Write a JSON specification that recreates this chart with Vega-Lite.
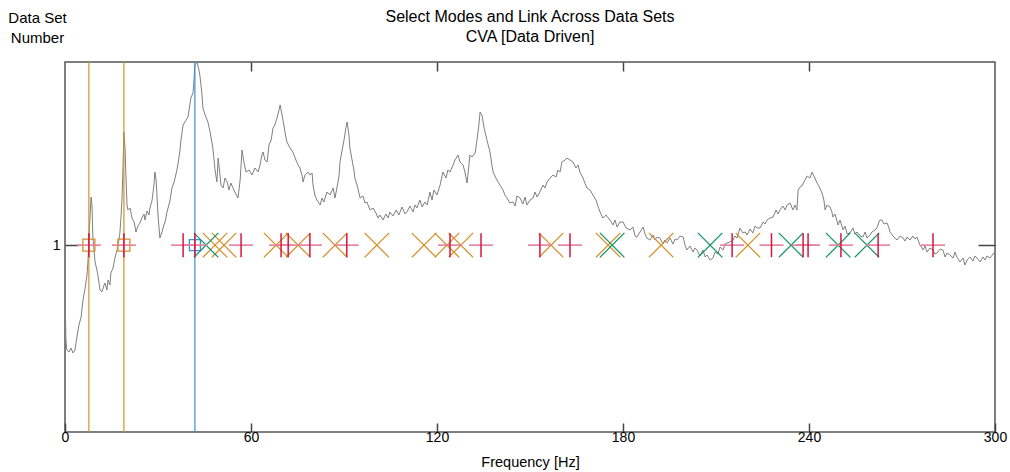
{
"$schema": "https://vega.github.io/schema/vega-lite/v6.json",
"width": 930, "height": 370,
"autosize": {"type": "none"},
"padding": {"left": 65, "top": 62, "right": 15, "bottom": 40},
"background": "white",
"config": {
  "view": {"stroke": "#555", "strokeWidth": 1.5},
  "font": "Liberation Sans",
  "axis": {"labelFont": "Liberation Sans", "titleFont": "Liberation Sans", "labelColor": "#000", "titleColor": "#000", "tickColor": "#444", "tickWidth": 1.5, "grid": false, "domain": false, "titleFontWeight": "normal", "labelFlush": false}
},
"title": {"text": ["Select Modes and Link Across Data Sets", "CVA [Data Driven]"], "font": "Liberation Sans", "fontSize": 16, "fontWeight": "normal", "color": "#000", "anchor": "middle", "offset": 0, "dy": 35, "lineHeight": 20},
"datasets": {
"curve": [
{"f":0,"a":142},{"f":0.3,"a":92},{"f":0.6,"a":82},{"f":1.3,"a":80},{"f":1.9,"a":84},{"f":2.6,"a":79},{"f":3.2,"a":82},{"f":3.9,"a":96},{"f":4.5,"a":107},{"f":5.2,"a":115},{"f":5.8,"a":132},{"f":6.5,"a":144},{"f":7.1,"a":157},{"f":7.4,"a":170},{"f":7.7,"a":192},{"f":8.1,"a":217},{"f":8.4,"a":235},{"f":8.7,"a":227},{"f":9.0,"a":194},{"f":9.7,"a":170},{"f":10.3,"a":162},{"f":10.6,"a":157},{"f":11.3,"a":142},{"f":11.9,"a":140},{"f":12.6,"a":147},{"f":12.9,"a":149},{"f":13.5,"a":142},{"f":13.9,"a":152},{"f":14.5,"a":147},{"f":14.8,"a":159},{"f":15.5,"a":164},{"f":16.1,"a":174},{"f":16.8,"a":182},{"f":17.4,"a":192},{"f":17.7,"a":199},{"f":18.1,"a":217},{"f":18.4,"a":234},{"f":18.7,"a":264},{"f":19.0,"a":300},{"f":19.4,"a":282},{"f":19.7,"a":252},{"f":20.0,"a":227},{"f":20.3,"a":222},{"f":21.0,"a":224},{"f":21.6,"a":214},{"f":22.3,"a":210},{"f":22.9,"a":200},{"f":23.5,"a":206},{"f":24.2,"a":209},{"f":24.8,"a":214},{"f":25.5,"a":218},{"f":25.8,"a":212},{"f":26.5,"a":221},{"f":27.1,"a":217},{"f":27.4,"a":224},{"f":28.1,"a":232},{"f":28.7,"a":247},{"f":29.0,"a":260},{"f":29.4,"a":252},{"f":30.0,"a":217},{"f":30.6,"a":194},{"f":31.3,"a":200},{"f":31.9,"a":207},{"f":32.3,"a":210},{"f":32.9,"a":220},{"f":33.5,"a":227},{"f":33.9,"a":232},{"f":34.5,"a":244},{"f":35.2,"a":250},{"f":35.5,"a":254},{"f":36.1,"a":262},{"f":36.5,"a":269},{"f":37.1,"a":282},{"f":37.4,"a":292},{"f":38.1,"a":307},{"f":38.7,"a":310},{"f":39.4,"a":314},{"f":39.7,"a":315},{"f":40.0,"a":322},{"f":40.6,"a":334},{"f":41.0,"a":337},{"f":41.3,"a":339},{"f":41.6,"a":352},{"f":41.9,"a":367},{"f":42.6,"a":370},{"f":43.2,"a":362},{"f":43.5,"a":357},{"f":44.2,"a":337},{"f":44.5,"a":324},{"f":45.2,"a":317},{"f":46.1,"a":310},{"f":46.8,"a":300},{"f":47.7,"a":284},{"f":48.4,"a":262},{"f":49.0,"a":250},{"f":49.4,"a":274},{"f":50.0,"a":257},{"f":50.3,"a":247},{"f":51.0,"a":244},{"f":51.6,"a":254},{"f":52.3,"a":250},{"f":52.9,"a":242},{"f":53.5,"a":249},{"f":54.2,"a":244},{"f":54.8,"a":240},{"f":55.8,"a":234},{"f":56.5,"a":252},{"f":57.1,"a":282},{"f":57.7,"a":270},{"f":58.4,"a":260},{"f":59.4,"a":262},{"f":60.3,"a":257},{"f":61.3,"a":264},{"f":62.3,"a":260},{"f":62.9,"a":267},{"f":63.5,"a":277},{"f":63.9,"a":280},{"f":64.5,"a":272},{"f":65.2,"a":270},{"f":65.8,"a":287},{"f":66.5,"a":292},{"f":67.1,"a":304},{"f":67.7,"a":307},{"f":68.4,"a":314},{"f":69.4,"a":327},{"f":70.0,"a":317},{"f":70.6,"a":307},{"f":71.3,"a":294},{"f":71.6,"a":290},{"f":72.6,"a":284},{"f":73.5,"a":280},{"f":74.5,"a":272},{"f":75.2,"a":267},{"f":75.8,"a":264},{"f":76.5,"a":256},{"f":76.8,"a":250},{"f":77.4,"a":257},{"f":78.4,"a":260},{"f":79.0,"a":257},{"f":79.7,"a":259},{"f":80.0,"a":247},{"f":80.6,"a":237},{"f":81.3,"a":232},{"f":82.3,"a":227},{"f":82.9,"a":234},{"f":83.5,"a":230},{"f":84.5,"a":240},{"f":85.5,"a":237},{"f":86.5,"a":244},{"f":87.1,"a":234},{"f":87.7,"a":244},{"f":88.4,"a":256},{"f":88.7,"a":270},{"f":89.4,"a":282},{"f":90.0,"a":292},{"f":90.6,"a":304},{"f":91.0,"a":310},{"f":91.6,"a":297},{"f":91.9,"a":284},{"f":92.6,"a":272},{"f":93.2,"a":262},{"f":93.5,"a":254},{"f":94.2,"a":247},{"f":95.2,"a":234},{"f":96.1,"a":236},{"f":96.8,"a":229},{"f":97.4,"a":230},{"f":98.4,"a":222},{"f":99.4,"a":224},{"f":100.3,"a":219},{"f":101.0,"a":214},{"f":101.6,"a":217},{"f":102.6,"a":212},{"f":103.5,"a":218},{"f":104.2,"a":214},{"f":104.8,"a":220},{"f":105.8,"a":216},{"f":106.8,"a":222},{"f":107.7,"a":217},{"f":108.7,"a":225},{"f":109.7,"a":218},{"f":110.3,"a":220},{"f":111.3,"a":226},{"f":112.3,"a":220},{"f":112.9,"a":227},{"f":113.5,"a":224},{"f":114.5,"a":232},{"f":115.2,"a":225},{"f":116.1,"a":230},{"f":116.8,"a":227},{"f":117.4,"a":235},{"f":117.7,"a":240},{"f":118.4,"a":232},{"f":119.0,"a":242},{"f":120.0,"a":237},{"f":121.0,"a":247},{"f":121.9,"a":260},{"f":122.9,"a":254},{"f":123.5,"a":262},{"f":124.2,"a":260},{"f":125.2,"a":267},{"f":125.8,"a":272},{"f":126.8,"a":277},{"f":127.4,"a":270},{"f":128.4,"a":267},{"f":129.0,"a":260},{"f":129.7,"a":249},{"f":130.3,"a":267},{"f":130.6,"a":277},{"f":131.3,"a":275},{"f":132.3,"a":279},{"f":132.9,"a":292},{"f":133.5,"a":307},{"f":133.9,"a":320},{"f":134.5,"a":317},{"f":135.2,"a":304},{"f":135.5,"a":300},{"f":136.1,"a":292},{"f":137.1,"a":280},{"f":137.7,"a":267},{"f":138.1,"a":260},{"f":139.0,"a":254},{"f":139.7,"a":250},{"f":140.3,"a":247},{"f":141.3,"a":242},{"f":141.9,"a":237},{"f":142.6,"a":234},{"f":143.5,"a":229},{"f":144.5,"a":230},{"f":145.2,"a":226},{"f":145.8,"a":236},{"f":146.8,"a":234},{"f":147.7,"a":228},{"f":148.4,"a":235},{"f":149.0,"a":227},{"f":150.0,"a":232},{"f":151.0,"a":234},{"f":151.6,"a":240},{"f":152.3,"a":235},{"f":153.2,"a":240},{"f":154.2,"a":247},{"f":154.8,"a":244},{"f":155.5,"a":250},{"f":156.5,"a":254},{"f":157.4,"a":257},{"f":158.4,"a":255},{"f":159.0,"a":262},{"f":159.7,"a":260},{"f":160.3,"a":270},{"f":161.3,"a":272},{"f":161.9,"a":274},{"f":162.9,"a":272},{"f":163.9,"a":270},{"f":164.8,"a":264},{"f":165.5,"a":267},{"f":166.1,"a":260},{"f":167.1,"a":254},{"f":167.7,"a":249},{"f":168.4,"a":244},{"f":169.4,"a":242},{"f":170.3,"a":237},{"f":171.3,"a":232},{"f":171.9,"a":226},{"f":172.6,"a":220},{"f":173.5,"a":214},{"f":174.5,"a":217},{"f":175.8,"a":212},{"f":176.8,"a":207},{"f":177.4,"a":212},{"f":178.1,"a":205},{"f":179.0,"a":210},{"f":180.0,"a":210},{"f":181.0,"a":204},{"f":182.3,"a":202},{"f":183.2,"a":205},{"f":183.9,"a":196},{"f":184.5,"a":195},{"f":185.5,"a":200},{"f":186.5,"a":205},{"f":187.1,"a":198},{"f":187.7,"a":194},{"f":188.7,"a":192},{"f":189.7,"a":197},{"f":190.3,"a":192},{"f":191.0,"a":195},{"f":191.9,"a":194},{"f":192.9,"a":188},{"f":193.5,"a":192},{"f":194.2,"a":189},{"f":195.2,"a":194},{"f":196.1,"a":188},{"f":196.8,"a":193},{"f":197.4,"a":192},{"f":198.4,"a":196},{"f":199.4,"a":195},{"f":200.0,"a":187},{"f":200.6,"a":182},{"f":201.6,"a":186},{"f":202.6,"a":180},{"f":203.2,"a":184},{"f":203.9,"a":182},{"f":204.8,"a":176},{"f":205.8,"a":182},{"f":206.5,"a":175},{"f":207.1,"a":177},{"f":208.1,"a":172},{"f":209.0,"a":174},{"f":209.7,"a":180},{"f":210.6,"a":178},{"f":211.3,"a":185},{"f":212.3,"a":182},{"f":212.9,"a":188},{"f":213.5,"a":189},{"f":214.5,"a":190},{"f":215.5,"a":192},{"f":216.1,"a":196},{"f":216.8,"a":194},{"f":217.7,"a":204},{"f":218.7,"a":199},{"f":219.4,"a":200},{"f":220.0,"a":197},{"f":221.0,"a":203},{"f":221.9,"a":199},{"f":222.6,"a":206},{"f":223.2,"a":204},{"f":224.2,"a":204},{"f":225.2,"a":210},{"f":225.8,"a":208},{"f":226.5,"a":212},{"f":227.4,"a":214},{"f":228.4,"a":215},{"f":229.4,"a":222},{"f":230.0,"a":218},{"f":230.6,"a":222},{"f":231.6,"a":226},{"f":232.3,"a":222},{"f":232.9,"a":227},{"f":233.9,"a":229},{"f":234.8,"a":222},{"f":235.5,"a":227},{"f":236.1,"a":222},{"f":236.5,"a":242},{"f":237.1,"a":245},{"f":237.7,"a":246},{"f":238.7,"a":252},{"f":239.4,"a":256},{"f":240.3,"a":254},{"f":241.0,"a":260},{"f":241.6,"a":256},{"f":242.6,"a":249},{"f":243.2,"a":246},{"f":244.2,"a":239},{"f":244.8,"a":232},{"f":245.2,"a":222},{"f":245.8,"a":227},{"f":246.8,"a":225},{"f":247.4,"a":220},{"f":247.7,"a":215},{"f":248.4,"a":218},{"f":249.4,"a":207},{"f":250.0,"a":212},{"f":251.0,"a":202},{"f":251.6,"a":206},{"f":252.3,"a":198},{"f":253.2,"a":199},{"f":254.2,"a":204},{"f":254.8,"a":198},{"f":255.5,"a":200},{"f":256.5,"a":196},{"f":257.4,"a":195},{"f":258.1,"a":200},{"f":258.7,"a":194},{"f":259.7,"a":197},{"f":260.3,"a":200},{"f":261.3,"a":202},{"f":261.9,"a":204},{"f":262.6,"a":210},{"f":262.9,"a":212},{"f":263.5,"a":212},{"f":264.2,"a":208},{"f":265.2,"a":209},{"f":265.8,"a":204},{"f":266.1,"a":200},{"f":267.1,"a":196},{"f":267.7,"a":194},{"f":268.4,"a":192},{"f":269.4,"a":196},{"f":270.3,"a":194},{"f":271.0,"a":191},{"f":271.6,"a":195},{"f":272.6,"a":192},{"f":273.5,"a":196},{"f":274.2,"a":193},{"f":274.8,"a":195},{"f":275.8,"a":187},{"f":276.8,"a":182},{"f":277.4,"a":186},{"f":278.1,"a":180},{"f":279.0,"a":184},{"f":280.0,"a":182},{"f":280.6,"a":178},{"f":281.3,"a":179},{"f":282.3,"a":183},{"f":283.2,"a":182},{"f":283.9,"a":175},{"f":284.5,"a":179},{"f":285.5,"a":177},{"f":286.5,"a":174},{"f":287.1,"a":180},{"f":287.7,"a":175},{"f":288.7,"a":170},{"f":289.7,"a":174},{"f":290.3,"a":167},{"f":291.0,"a":172},{"f":291.9,"a":175},{"f":292.9,"a":171},{"f":293.5,"a":176},{"f":294.2,"a":174},{"f":295.2,"a":170},{"f":296.1,"a":175},{"f":296.8,"a":172},{"f":297.4,"a":176},{"f":298.4,"a":174},{"f":299.4,"a":178},{"f":300.0,"a":180}
],
"lines": [
{"f": 7.7, "group": "orange"}, {"f": 19.0, "group": "orange"}, {"f": 41.9, "group": "blue"}
],
"modes": [
{"f": 7.7, "ds": 1, "group": "sq-orange"}, {"f": 19.0, "ds": 1, "group": "sq-orange"}, {"f": 41.9, "ds": 1, "group": "sq-blue"},
{"f": 48.4, "ds": 1, "group": "x-orange"}, {"f": 51.3, "ds": 1, "group": "x-orange"}, {"f": 68.1, "ds": 1, "group": "x-orange"}, {"f": 75.2, "ds": 1, "group": "x-orange"}, {"f": 87.1, "ds": 1, "group": "x-orange"}, {"f": 100.6, "ds": 1, "group": "x-orange"}, {"f": 115.8, "ds": 1, "group": "x-orange"}, {"f": 123.2, "ds": 1, "group": "x-orange"}, {"f": 127.7, "ds": 1, "group": "x-orange"}, {"f": 156.8, "ds": 1, "group": "x-orange"}, {"f": 175.2, "ds": 1, "group": "x-orange"}, {"f": 192.3, "ds": 1, "group": "x-orange"}, {"f": 220.3, "ds": 1, "group": "x-orange"},
{"f": 45.5, "ds": 1, "group": "x-green"}, {"f": 176.5, "ds": 1, "group": "x-green"}, {"f": 208.1, "ds": 1, "group": "x-green"}, {"f": 234.2, "ds": 1, "group": "x-green"}, {"f": 249.4, "ds": 1, "group": "x-green"}, {"f": 258.7, "ds": 1, "group": "x-green"},
{"f": 7.7, "ds": 1, "group": "cross"}, {"f": 19.0, "ds": 1, "group": "cross"}, {"f": 38.1, "ds": 1, "group": "cross"}, {"f": 41.9, "ds": 1, "group": "cross"}, {"f": 56.8, "ds": 1, "group": "cross"}, {"f": 69.7, "ds": 1, "group": "cross"}, {"f": 72.0, "ds": 1, "group": "cross"}, {"f": 79.0, "ds": 1, "group": "cross"}, {"f": 90.9, "ds": 1, "group": "cross"}, {"f": 124.2, "ds": 1, "group": "cross"}, {"f": 134.2, "ds": 1, "group": "cross"}, {"f": 153.2, "ds": 1, "group": "cross"}, {"f": 162.9, "ds": 1, "group": "cross"}, {"f": 215.2, "ds": 1, "group": "cross"}, {"f": 227.9, "ds": 1, "group": "cross"}, {"f": 238.1, "ds": 1, "group": "cross"}, {"f": 239.7, "ds": 1, "group": "cross"}, {"f": 250.3, "ds": 1, "group": "cross"}, {"f": 262.3, "ds": 1, "group": "cross"}, {"f": 280.0, "ds": 1, "group": "cross"}
]
},
"resolve": {"scale": {"y": "independent"}, "axis": {"x": "independent", "y": "independent"}},
"layer": [
{
  "data": {"name": "curve"},
  "mark": {"type": "line", "color": "#7f7f7f", "strokeWidth": 1, "clip": true},
  "encoding": {
    "x": {"field": "f", "type": "quantitative", "scale": {"domain": [0, 300], "nice": false, "zero": false},
      "axis": {"orient": "bottom", "values": [0, 60, 120, 180, 240, 300], "tickSize": -9, "labelPadding": 7, "labelFontSize": 14, "title": "Frequency [Hz]", "titleFontSize": 14.5, "titlePadding": 11}},
    "y": {"field": "a", "type": "quantitative", "scale": {"domain": [0, 370], "nice": false, "zero": false}, "axis": null}
  }
},
{
  "data": {"name": "lines"},
  "transform": [{"filter": "datum.group == 'orange'"}],
  "mark": {"type": "rule", "color": "#d4902a", "strokeWidth": 1.2},
  "encoding": {"x": {"field": "f", "type": "quantitative", "axis": null}}
},
{
  "data": {"name": "lines"},
  "transform": [{"filter": "datum.group == 'blue'"}],
  "mark": {"type": "rule", "color": "#3d8fcf", "strokeWidth": 1.2},
  "encoding": {"x": {"field": "f", "type": "quantitative", "axis": null}}
},
{
  "data": {"name": "modes"},
  "transform": [{"filter": "datum.group == 'sq-orange'"}],
  "mark": {"type": "point", "shape": "square", "size": 144, "filled": false, "stroke": "#d4902a", "strokeWidth": 1.3, "opacity": 1},
  "encoding": {
    "x": {"field": "f", "type": "quantitative", "axis": null},
    "y": {"field": "ds", "type": "quantitative", "scale": {"domain": [0, 1.98], "nice": false, "zero": false},
      "axis": {"orient": "left", "values": [1], "tickSize": -13, "labelPadding": 18, "labelFontSize": 14, "title": ["Data Set", "Number"], "titleAngle": 0, "titleAlign": "center", "titleBaseline": "middle", "titleX": -28, "titleY": -45, "titleFontSize": 15, "titleLineHeight": 20}}
  }
},
{
  "data": {"name": "modes"},
  "transform": [{"filter": "datum.group == 'sq-blue'"}],
  "mark": {"type": "point", "shape": "square", "size": 121, "filled": false, "stroke": "#3d8fcf", "strokeWidth": 1.3, "opacity": 1},
  "encoding": {
    "x": {"field": "f", "type": "quantitative", "axis": null},
    "y": {"field": "ds", "type": "quantitative", "scale": {"domain": [0, 1.98], "nice": false, "zero": false}, "axis": null}
  }
},
{
  "data": {"name": "modes"},
  "transform": [{"filter": "datum.group == 'x-orange'"}],
  "mark": {"type": "point", "shape": "M-1,-1L1,1M-1,1L1,-1", "size": 600, "filled": false, "stroke": "#d4902a", "strokeWidth": 1.3, "opacity": 1},
  "encoding": {
    "x": {"field": "f", "type": "quantitative", "axis": null},
    "y": {"field": "ds", "type": "quantitative", "scale": {"domain": [0, 1.98], "nice": false, "zero": false}, "axis": null}
  }
},
{
  "data": {"name": "modes"},
  "transform": [{"filter": "datum.group == 'x-green'"}],
  "mark": {"type": "point", "shape": "M-1,-1L1,1M-1,1L1,-1", "size": 600, "filled": false, "stroke": "#14976a", "strokeWidth": 1.3, "opacity": 1},
  "encoding": {
    "x": {"field": "f", "type": "quantitative", "axis": null},
    "y": {"field": "ds", "type": "quantitative", "scale": {"domain": [0, 1.98], "nice": false, "zero": false}, "axis": null}
  }
},
{
  "data": {"name": "modes"},
  "transform": [{"filter": "datum.group == 'cross'"}],
  "mark": {"type": "point", "shape": "M-1,0L1,0", "size": 576, "filled": false, "stroke": "#e57f9c", "strokeWidth": 1.6, "opacity": 1},
  "encoding": {
    "x": {"field": "f", "type": "quantitative", "axis": null},
    "y": {"field": "ds", "type": "quantitative", "scale": {"domain": [0, 1.98], "nice": false, "zero": false}, "axis": null}
  }
},
{
  "data": {"name": "modes"},
  "transform": [{"filter": "datum.group == 'cross'"}],
  "mark": {"type": "point", "shape": "M0,-1L0,1", "size": 576, "filled": false, "stroke": "#d4163f", "strokeWidth": 1.5, "opacity": 1},
  "encoding": {
    "x": {"field": "f", "type": "quantitative", "axis": null},
    "y": {"field": "ds", "type": "quantitative", "scale": {"domain": [0, 1.98], "nice": false, "zero": false}, "axis": null}
  }
},
{
  "data": {"name": "lines"},
  "mark": {"type": "point", "opacity": 0},
  "encoding": {
    "x": {"field": "f", "type": "quantitative", "axis": {"orient": "top", "values": [60, 120, 180, 240], "tickSize": -9, "labels": false, "title": null}},
    "y": {"datum": 1, "type": "quantitative", "scale": {"domain": [0, 1.98], "nice": false, "zero": false},
      "axis": {"orient": "right", "values": [1], "tickSize": -17, "labels": false, "title": null}}
  }
}
]
}
